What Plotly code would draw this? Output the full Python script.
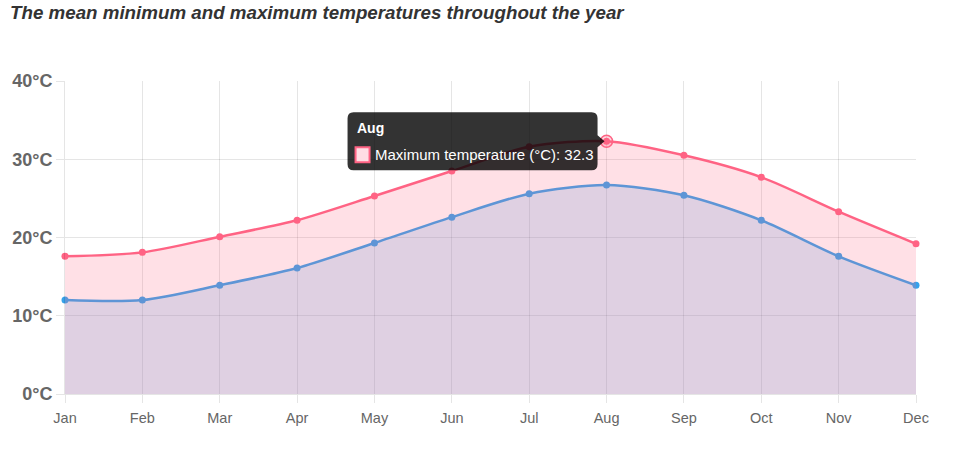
import plotly.graph_objects as go

months = ['Jan', 'Feb', 'Mar', 'Apr', 'May', 'Jun', 'Jul', 'Aug', 'Sep', 'Oct', 'Nov', 'Dec']
min_temp = [12.0, 12.0, 13.9, 16.1, 19.3, 22.6, 25.6, 26.7, 25.4, 22.2, 17.6, 13.9]
max_temp = [17.6, 18.1, 20.1, 22.2, 25.3, 28.5, 31.6, 32.3, 30.5, 27.7, 23.3, 19.2]
y_ticks = [0, 10, 20, 30, 40]

RED = 'rgb(255, 99, 132)'
BLUE = 'rgb(54, 162, 235)'
FONT = 'Liberation Sans, Arial, sans-serif'

xs = list(range(len(months)))
hover_i = months.index('Aug')

fig = go.Figure()

# min first so the pink fill of the max series sits on top (gives the purple overlap)
fig.add_trace(go.Scatter(
    x=xs, y=min_temp, name='Minimum temperature (°C)',
    mode='lines+markers', fill='tozeroy', fillcolor='rgba(54, 162, 235, 0.2)',
    line=dict(color=BLUE, width=2.5, shape='spline', smoothing=0.8),
    marker=dict(size=7, color=BLUE), cliponaxis=False,
))
fig.add_trace(go.Scatter(
    x=xs, y=max_temp, name='Maximum temperature (°C)',
    mode='lines+markers', fill='tozeroy', fillcolor='rgba(255, 99, 132, 0.2)',
    line=dict(color=RED, width=2.5, shape='spline', smoothing=0.8),
    marker=dict(size=7, color=RED), cliponaxis=False,
))

# tooltip box (rounded, with caret), anchored to the hovered point
L, R, T, B, r = -259, -9, 29, -29, 6
path = (f'M {L + r},{T} L {R - r},{T} Q {R},{T} {R},{T - r} '
        f'L {R},6 L {R + 7},0 L {R},-6 '
        f'L {R},{B + r} Q {R},{B} {R - r},{B} L {L + r},{B} Q {L},{B} {L},{B + r} '
        f'L {L},{T - r} Q {L},{T} {L + r},{T} Z')
fig.add_shape(type='path', path=path, xref='x', yref='y',
              xsizemode='pixel', ysizemode='pixel',
              xanchor=hover_i, yanchor=max_temp[hover_i],
              fillcolor='rgba(0,0,0,0.8)', line=dict(width=0), layer='above')
fig.add_shape(type='rect', xref='x', yref='y',
              xsizemode='pixel', ysizemode='pixel',
              xanchor=hover_i, yanchor=max_temp[hover_i],
              x0=-251, x1=-237, y0=-6, y1=-21,
              fillcolor='#ffdde4', line=dict(color=RED, width=2), layer='above')

# hovered point
fig.add_trace(go.Scatter(
    x=[xs[hover_i]], y=[max_temp[hover_i]], mode='markers', showlegend=False,
    marker=dict(size=12, color='rgba(255, 99, 132, 0.25)', line=dict(color=RED, width=1.5)),
    cliponaxis=False,
))

fig.add_annotation(x=hover_i, y=max_temp[hover_i], xref='x', yref='y',
                   text='<b>Aug</b>', showarrow=False, xanchor='left', yanchor='middle',
                   xshift=-252, yshift=13, font=dict(family=FONT, size=14, color='white'))
fig.add_annotation(x=hover_i, y=max_temp[hover_i], xref='x', yref='y',
                   text=f'Maximum temperature (°C): {max_temp[hover_i]}', showarrow=False,
                   xanchor='left', yanchor='middle', xshift=-234, yshift=-13,
                   font=dict(family=FONT, size=15, color='white'))

fig.update_xaxes(
    range=[0, len(months) - 1], tickvals=xs, ticktext=months,
    showgrid=True, gridcolor='rgba(0,0,0,0.1)', gridwidth=1,
    showline=True, linecolor='rgba(0,0,0,0.1)', zeroline=False,
    ticks='outside', ticklen=8, tickcolor='rgba(0,0,0,0.1)', ticklabelstandoff=3,
    tickfont=dict(family=FONT, size=14.5, color='#666'), automargin=False,
)
fig.update_yaxes(
    range=[0, 40], tickvals=y_ticks, ticktext=[f'{v}°C' for v in y_ticks],
    showgrid=True, gridcolor='rgba(0,0,0,0.1)', gridwidth=1,
    showline=True, linecolor='rgba(0,0,0,0.1)', zeroline=False,
    ticks='outside', ticklen=8, tickcolor='rgba(0,0,0,0.1)',
    tickfont=dict(family=FONT, size=18, color='#666', weight='bold'), automargin=False,
)

fig.update_layout(
    width=969, height=451,
    margin=dict(l=65, r=53, t=81, b=57),
    plot_bgcolor='white', paper_bgcolor='white',
    showlegend=False, hovermode=False,
    title=dict(text='<b><i>The mean minimum and maximum temperatures throughout the year</i></b>',
               xref='container', x=10 / 969, xanchor='left',
               yref='container', y=1 - 12 / 451, yanchor='middle',
               font=dict(family=FONT, size=18.75, color='#333')),
)

# page margin would push the figure 8px off the top-left corner
fig.write_html('out.html', config={'displayModeBar': False},
               post_script="document.body.style.margin='0px';")
